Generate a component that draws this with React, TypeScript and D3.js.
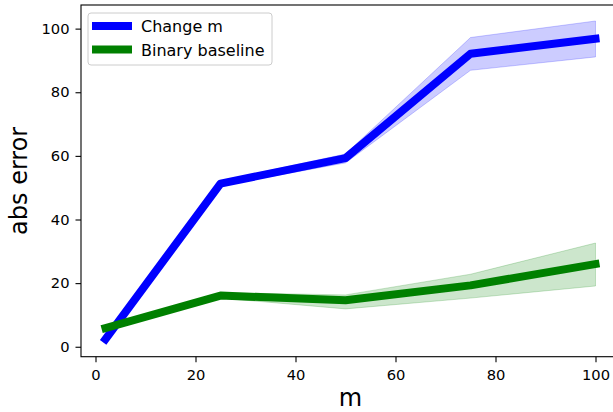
import React, { useEffect, useRef } from "react";
import * as d3 from "d3";

const mValues = [2, 25, 50, 75, 100];
const changeMean = [2.4, 51.3, 59.3, 92.1, 96.8];
const changeLow = [1.9, 50.6, 57.8, 86.9, 91.1];
const changeHigh = [2.9, 52.1, 60.6, 97.2, 102.4];
const baselineMean = [5.9, 16.1, 14.6, 19.3, 26.0];
const baselineLow = [5.6, 15.3, 11.9, 15.3, 19.1];
const baselineHigh = [6.2, 17.0, 16.3, 22.8, 32.6];
const xTicks = [0, 20, 40, 60, 80, 100];
const yTicks = [0, 20, 40, 60, 80, 100];
const seriesNames = ["Change m", "Binary baseline"];
const seriesColors = ["#0000ff", "#008000"];

const W = 613;
const H = 412;
const FONT = "DejaVu Sans, sans-serif";

const App = () => {
  const ref = useRef<SVGSVGElement>(null);

  useEffect(() => {
    const svg = d3.select(ref.current);
    svg.selectAll("*").remove();

    const left = 81, right = 620, top = 5, bottom = 356.7;

    // matplotlib style 5% margins
    const xMin = d3.min(mValues)!, xMax = d3.max(mValues)!;
    const xPad = (xMax - xMin) * 0.05;
    const yMin = d3.min([...changeLow, ...baselineLow])!;
    const yMax = d3.max([...changeHigh, ...baselineHigh])!;
    const yPad = (yMax - yMin) * 0.05;

    const x = d3.scaleLinear().domain([xMin - xPad, xMax + xPad]).range([left, right]);
    const y = d3.scaleLinear().domain([yMin - yPad, yMax + yPad]).range([bottom, top]);

    const series = [
      { mean: changeMean, low: changeLow, high: changeHigh },
      { mean: baselineMean, low: baselineLow, high: baselineHigh },
    ];

    const idx = mValues.map((_, i) => i);
    const plot = svg.append("g");

    series.forEach((s, k) => {
      const area = d3.area<number>()
        .x(i => x(mValues[i]))
        .y0(i => y(s.low[i]))
        .y1(i => y(s.high[i]));
      const line = d3.line<number>()
        .x(i => x(mValues[i]))
        .y(i => y(s.mean[i]));

      plot.append("path")
        .attr("d", area(idx))
        .attr("fill", seriesColors[k])
        .attr("fill-opacity", 0.2)
        .attr("stroke", seriesColors[k])
        .attr("stroke-opacity", 0.2)
        .attr("stroke-width", 1);
      plot.append("path")
        .attr("d", line(idx))
        .attr("fill", "none")
        .attr("stroke", seriesColors[k])
        .attr("stroke-width", 8)
        .attr("stroke-linecap", "square")
        .attr("stroke-linejoin", "round");
    });

    // spines
    svg.append("rect")
      .attr("x", left).attr("y", top)
      .attr("width", right - left).attr("height", bottom - top)
      .attr("fill", "none").attr("stroke", "#000").attr("stroke-width", 1.1);

    const xAxis = svg.append("g")
      .attr("transform", `translate(0,${bottom})`)
      .call(d3.axisBottom(x).tickValues(xTicks).tickSize(5.5).tickPadding(7).tickFormat(d3.format("d")));
    const yAxis = svg.append("g")
      .attr("transform", `translate(${left},0)`)
      .call(d3.axisLeft(y).tickValues(yTicks).tickSize(5.5).tickPadding(6).tickFormat(d3.format("d")));
    [xAxis, yAxis].forEach(a => {
      a.select(".domain").remove();
      a.selectAll("line").attr("stroke", "#000").attr("stroke-width", 1.1);
      a.selectAll("text").attr("font-family", FONT).attr("font-size", 14.7).attr("fill", "#000");
    });

    svg.append("text")
      .attr("x", (left + right) / 2).attr("y", 406)
      .attr("text-anchor", "middle")
      .attr("font-family", FONT).attr("font-size", 24)
      .text("m");
    svg.append("text")
      .attr("transform", `translate(27,${(top + bottom) / 2}) rotate(-90)`)
      .attr("text-anchor", "middle")
      .attr("font-family", FONT).attr("font-size", 24)
      .text("abs error");

    // legend
    const lg = svg.append("g");
    lg.append("rect")
      .attr("x", 88).attr("y", 13).attr("width", 184).attr("height", 52)
      .attr("rx", 3).attr("fill", "#fff").attr("fill-opacity", 0.8)
      .attr("stroke", "#cccccc").attr("stroke-width", 1);
    seriesNames.forEach((name, k) => {
      const cy = 26 + k * 23.5;
      lg.append("line")
        .attr("x1", 96).attr("x2", 128).attr("y1", cy).attr("y2", cy)
        .attr("stroke", seriesColors[k]).attr("stroke-width", 8)
        .attr("stroke-linecap", "square");
      lg.append("text")
        .attr("x", 141).attr("y", cy + 6)
        .attr("font-family", FONT).attr("font-size", 16)
        .text(name);
    });
  }, []);

  return (
    <svg
      ref={ref}
      width={W}
      height={H}
      style={{ position: "absolute", left: 0, top: 0, background: "#fff" }}
    ></svg>
  );
};

export default App;
